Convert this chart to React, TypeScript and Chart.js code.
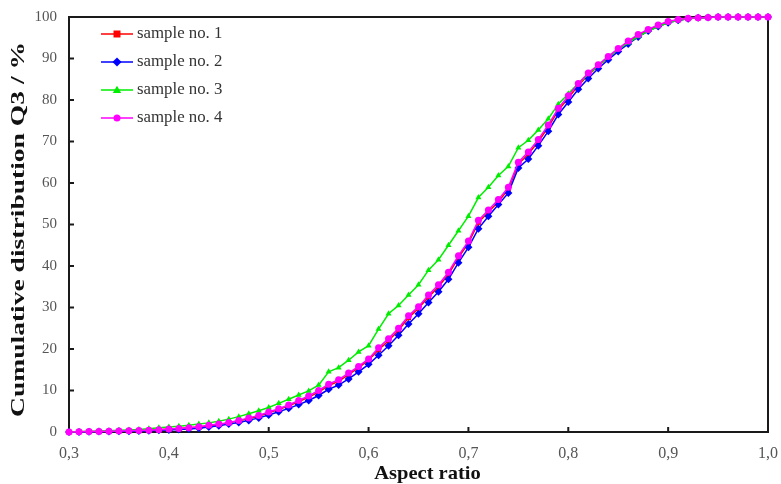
import React, { useEffect, useRef } from "react";
import { Chart, registerables } from "chart.js";

Chart.register(...registerables);

const ratios = [
  0.30, 0.31, 0.32, 0.33, 0.34, 0.35, 0.36, 0.37, 0.38, 0.39,
  0.40, 0.41, 0.42, 0.43, 0.44, 0.45, 0.46, 0.47, 0.48, 0.49,
  0.50, 0.51, 0.52, 0.53, 0.54, 0.55, 0.56, 0.57, 0.58, 0.59,
  0.60, 0.61, 0.62, 0.63, 0.64, 0.65, 0.66, 0.67, 0.68, 0.69,
  0.70, 0.71, 0.72, 0.73, 0.74, 0.75, 0.76, 0.77, 0.78, 0.79,
  0.80, 0.81, 0.82, 0.83, 0.84, 0.85, 0.86, 0.87, 0.88, 0.89,
  0.90, 0.91, 0.92, 0.93, 0.94, 0.95, 0.96, 0.97, 0.98, 0.99, 1.00,
];

const sample1 = [
  0, 0.05, 0.1, 0.15, 0.2, 0.25, 0.3, 0.35, 0.45, 0.55,
  0.7, 0.85, 1.0, 1.2, 1.5, 1.8, 2.2, 2.7, 3.2, 3.8,
  4.6, 5.4, 6.3, 7.3, 8.4, 9.6, 11.2, 12.2, 13.8, 15.5,
  17.3, 19.8, 22.0, 24.5, 27.5, 29.8, 32.5, 35.0, 38.0, 42.0,
  45.5, 50.5, 53.0, 55.5, 58.5, 64.5, 67.0, 70.0, 73.5, 77.5,
  80.5, 83.5, 86.0, 88.2, 90.2, 92.2, 94.0, 95.6, 96.9, 98.0,
  98.8, 99.3, 99.6, 99.8, 99.9, 100, 100, 100, 100, 100, 100,
];

const sample2 = [
  0, 0.03, 0.06, 0.1, 0.13, 0.17, 0.2, 0.25, 0.3, 0.4,
  0.5, 0.6, 0.75, 0.9, 1.2, 1.5, 1.9, 2.3, 2.8, 3.4,
  4.1, 4.9, 5.7, 6.6, 7.6, 8.8, 10.3, 11.3, 12.8, 14.5,
  16.3, 18.5, 20.8, 23.3, 26.0, 28.5, 31.2, 33.8, 36.8, 40.8,
  44.5, 49.0, 52.0, 54.8, 57.6, 63.6, 65.8, 69.0, 72.5, 76.5,
  79.5, 82.6, 85.2, 87.6, 89.7, 91.7, 93.5, 95.2, 96.6, 97.7,
  98.6, 99.2, 99.6, 99.8, 99.9, 100, 100, 100, 100, 100, 100,
];

const sample3 = [
  0, 0.1, 0.15, 0.2, 0.3, 0.4, 0.5, 0.6, 0.8, 1.0,
  1.2, 1.4, 1.6, 1.9, 2.2, 2.6, 3.1, 3.7, 4.4, 5.1,
  5.9, 6.9, 7.9, 8.9, 9.9, 11.3, 14.5, 15.5, 17.3, 19.3,
  20.8, 24.8, 28.5, 30.5, 33.0, 35.5, 39.0, 41.5, 45.0, 48.5,
  52.0, 56.5, 59.0, 61.8, 64.0, 68.5, 70.3, 72.8, 75.5, 79.0,
  81.5, 84.0, 86.2, 88.3, 90.3, 92.2, 93.8, 95.3, 96.6, 97.7,
  98.6, 99.2, 99.6, 99.8, 99.9, 100, 100, 100, 100, 100, 100,
];

const sample4 = [
  0, 0.05, 0.1, 0.15, 0.2, 0.25, 0.3, 0.35, 0.45, 0.55,
  0.7, 0.85, 1.05, 1.25, 1.6, 1.9, 2.3, 2.8, 3.4, 4.0,
  4.8, 5.6, 6.5, 7.6, 8.7, 10.0, 11.5, 12.6, 14.2, 15.8,
  17.6, 20.3, 22.5, 25.0, 28.0, 30.2, 33.0, 35.5, 38.5, 42.5,
  46.0, 51.0, 53.5, 56.0, 59.0, 65.0, 67.5, 70.5, 74.0, 78.0,
  81.0, 84.0, 86.5, 88.5, 90.5, 92.4, 94.2, 95.8, 97.0, 98.1,
  98.9, 99.4, 99.7, 99.8, 99.9, 100, 100, 100, 100, 100, 100,
];

const seriesLabels = ["sample no. 1", "sample no. 2", "sample no. 3", "sample no. 4"];
const seriesColors = ["#ff0000", "#0000ff", "#00ee00", "#ff00ff"];
const seriesMarkers = ["rect", "rectRot", "triangle", "circle"];
const seriesValues = [sample1, sample2, sample3, sample4];
const xTicks = [0.3, 0.4, 0.5, 0.6, 0.7, 0.8, 0.9, 1.0];
const yTicks = [0, 10, 20, 30, 40, 50, 60, 70, 80, 90, 100];
const xTitle = "Aspect ratio";
const yTitle = "Cumulative distribution Q3 / %";

const FONT = "'Liberation Serif', 'Times New Roman', serif";

function drawMarker(ctx: CanvasRenderingContext2D, style: string, x: number, y: number, r: number, color: string) {
  ctx.save();
  ctx.fillStyle = color;
  ctx.beginPath();
  if (style === "rect") {
    ctx.rect(x - r, y - r, 2 * r, 2 * r);
  } else if (style === "rectRot") {
    const d = r * 1.3;
    ctx.moveTo(x, y - d);
    ctx.lineTo(x + d, y);
    ctx.lineTo(x, y + d);
    ctx.lineTo(x - d, y);
    ctx.closePath();
  } else if (style === "triangle") {
    const d = r * 1.2;
    ctx.moveTo(x, y - d);
    ctx.lineTo(x + d, y + d * 0.7);
    ctx.lineTo(x - d, y + d * 0.7);
    ctx.closePath();
  } else {
    ctx.arc(x, y, r, 0, Math.PI * 2);
  }
  ctx.fill();
  ctx.restore();
}

const frameAndTicks = {
  id: "frameAndTicks",
  beforeDatasetsDraw(chart: any) {
    const { ctx, chartArea } = chart;
    const xs = chart.scales.x;
    const ys = chart.scales.y;
    ctx.save();
    ctx.strokeStyle = "#1a1a1a";
    ctx.lineWidth = 2;
    ctx.strokeRect(chartArea.left, chartArea.top, chartArea.right - chartArea.left, chartArea.bottom - chartArea.top);
    ctx.beginPath();
    xTicks.forEach((v) => {
      const px = xs.getPixelForValue(v);
      ctx.moveTo(px, chartArea.bottom);
      ctx.lineTo(px, chartArea.bottom - 5);
    });
    yTicks.forEach((v) => {
      const py = ys.getPixelForValue(v);
      ctx.moveTo(chartArea.left, py);
      ctx.lineTo(chartArea.left + 5, py);
    });
    ctx.stroke();

    // y-axis title (stretched along its length like the reference)
    ctx.save();
    ctx.translate(19, (chartArea.top + chartArea.bottom) / 2 + 5);
    ctx.rotate(-Math.PI / 2);
    ctx.scale(1.45, 1);
    ctx.fillStyle = "#111111";
    ctx.font = `bold 19px ${FONT}`;
    ctx.textAlign = "center";
    ctx.textBaseline = "middle";
    ctx.fillText(yTitle, 0, 0);
    ctx.restore();

    // x-axis title
    ctx.save();
    ctx.translate((chartArea.left + chartArea.right) / 2 + 9, 474);
    ctx.scale(1.08, 1);
    ctx.fillStyle = "#111111";
    ctx.font = `bold 19px ${FONT}`;
    ctx.textAlign = "center";
    ctx.textBaseline = "middle";
    ctx.fillText(xTitle, 0, 0);
    ctx.restore();

    ctx.restore();
  },
};

const insideLegend = {
  id: "insideLegend",
  afterDraw(chart: any) {
    const { ctx } = chart;
    ctx.save();
    chart.data.datasets.forEach((ds: any, i: number) => {
      const y = 34 + i * 28;
      ctx.strokeStyle = ds.borderColor;
      ctx.lineWidth = 1.5;
      ctx.beginPath();
      ctx.moveTo(101, y);
      ctx.lineTo(133, y);
      ctx.stroke();
      drawMarker(ctx, ds.pointStyle, 117, y, 3.5, ds.borderColor);
      ctx.fillStyle = "#333333";
      ctx.font = `16px ${FONT}`;
      ctx.textAlign = "left";
      ctx.textBaseline = "middle";
      ctx.save();
      ctx.translate(137, y);
      ctx.scale(1.05, 1);
      ctx.fillText(ds.label, 0, 0);
      ctx.restore();
    });
    ctx.restore();
  },
};

export default function App() {
  const ref = useRef<HTMLCanvasElement | null>(null);

  useEffect(() => {
    document.body.style.margin = "0";
    if (!ref.current) return;
    const datasets = seriesValues.map((vals, i) => ({
      label: seriesLabels[i],
      data: ratios.map((r, k) => ({ x: r, y: vals[k] })),
      borderColor: seriesColors[i],
      backgroundColor: seriesColors[i],
      pointBackgroundColor: seriesColors[i],
      pointBorderColor: seriesColors[i],
      pointStyle: seriesMarkers[i],
      pointRadius: seriesMarkers[i] === "rectRot" ? 4 : 3.5,
      pointBorderWidth: 0,
      borderWidth: 1.5,
      tension: 0,
      clip: false as any,
      order: 4 - i,
    }));
    const chart = new Chart(ref.current, {
      type: "line",
      data: { datasets },
      options: {
        animation: false,
        responsive: false,
        layout: { padding: { left: 0, right: 13, top: 17, bottom: 0 } },
        plugins: {
          legend: { display: false },
          tooltip: { enabled: false },
        },
        scales: {
          x: {
            type: "linear",
            min: 0.3,
            max: 1.0,
            grid: { display: false, drawTicks: false },
            border: { display: false },
            afterFit: (s: any) => {
              s.height = 52;
              s.paddingLeft = 0;
              s.paddingRight = 0;
            },
            afterBuildTicks: (s: any) => {
              s.ticks = xTicks.map((v) => ({ value: v }));
            },
            ticks: {
              padding: 12,
              color: "#555555",
              font: { family: FONT, size: 16 },
              callback: (v: any) => Number(v).toFixed(1).replace(".", ","),
            },
            title: { display: false },
          },
          y: {
            type: "linear",
            min: 0,
            max: 100,
            grid: { display: false, drawTicks: false },
            border: { display: false },
            afterFit: (s: any) => {
              s.width = 69;
              s.paddingTop = 0;
              s.paddingBottom = 0;
            },
            afterBuildTicks: (s: any) => {
              s.ticks = yTicks.map((v) => ({ value: v }));
            },
            ticks: {
              padding: 12,
              color: "#555555",
              font: { family: FONT, size: 15 },
            },
            title: { display: false },
          },
        },
      },
      plugins: [frameAndTicks, insideLegend],
    });
    return () => chart.destroy();
  }, []);

  return (
    <div style={{ width: 781, height: 484 }}>
      <canvas ref={ref} width={781} height={484} />
    </div>
  );
}
